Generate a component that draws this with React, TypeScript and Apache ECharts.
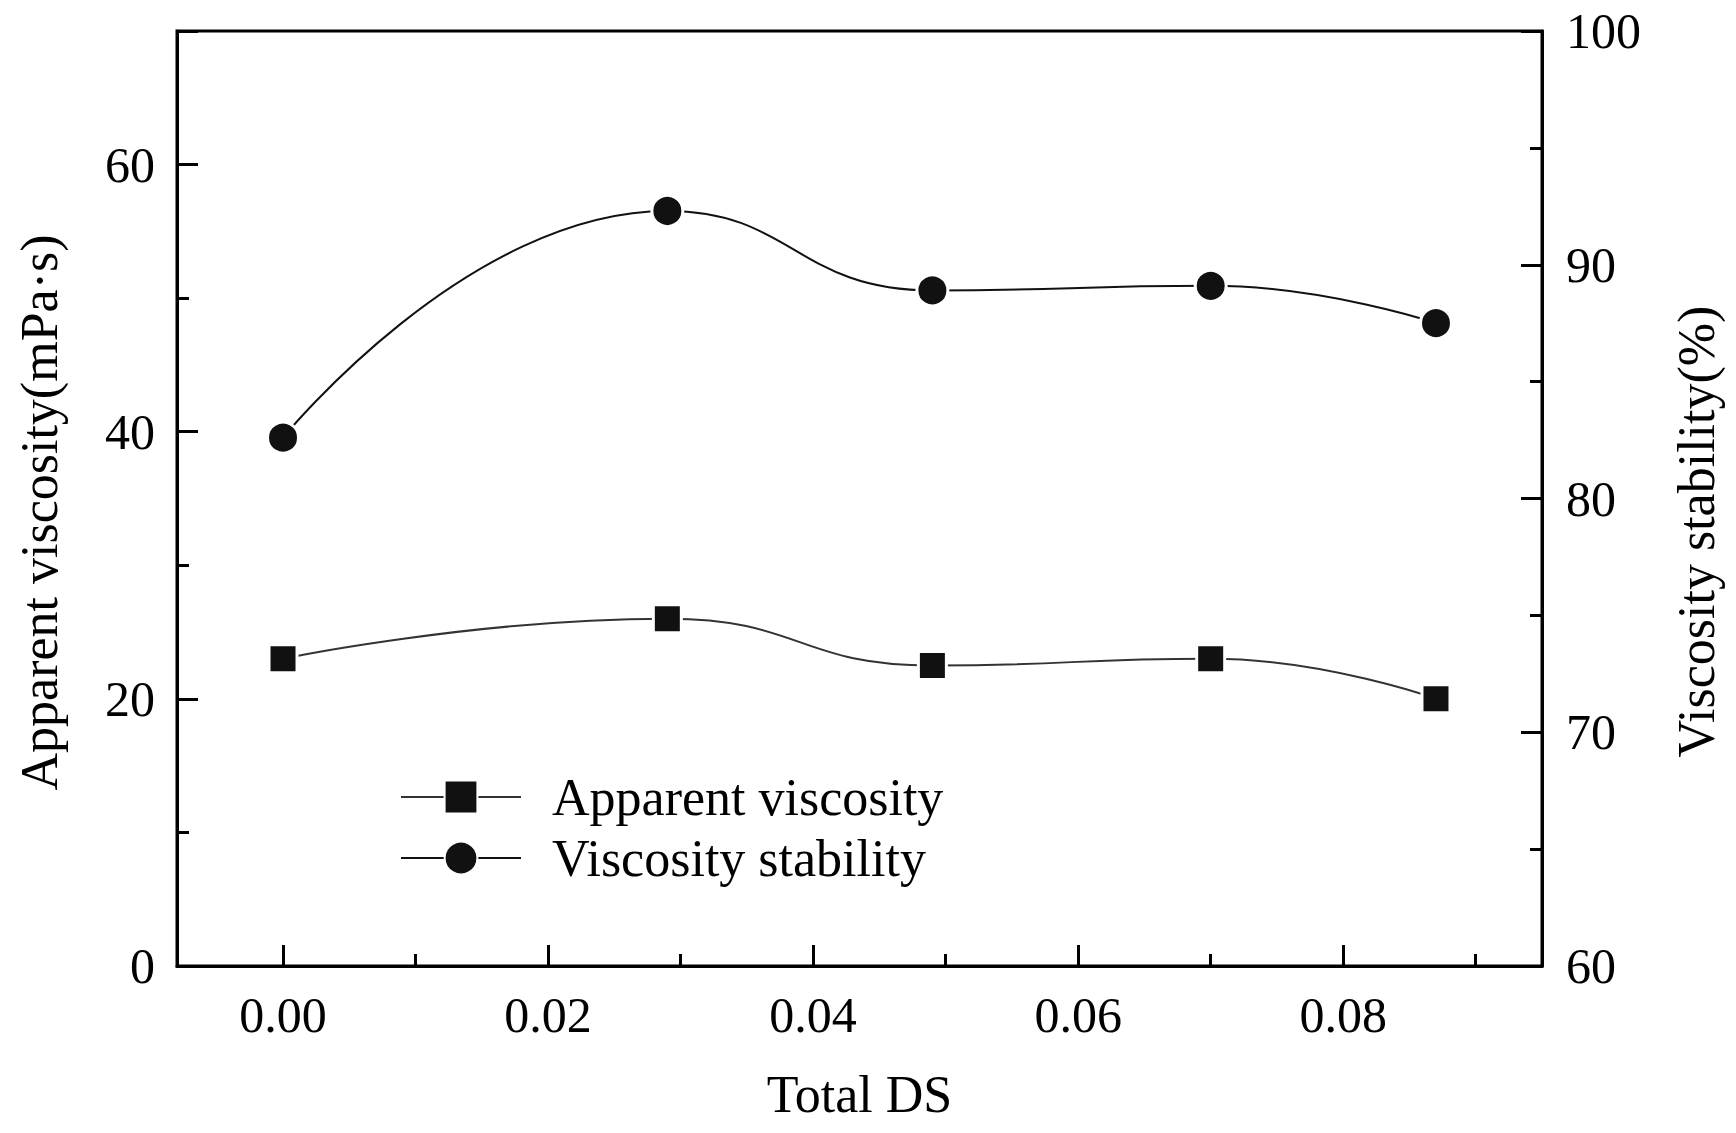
import React, { useEffect, useRef } from "react";
import * as echarts from "echarts";

const totalDS = [0.0, 0.029, 0.049, 0.07, 0.087];
const apparentViscosity = [23.0, 26.0, 22.5, 23.0, 20.0];
const viscosityStability = [82.6, 92.3, 88.9, 89.1, 87.5];
const seriesNames = ["Apparent viscosity", "Viscosity stability"];
const xAxisName = "Total DS";
const leftAxisName = "Apparent viscosity(mPa·s)";
const rightAxisName = "Viscosity stability(%)";

const FONT = "'Liberation Serif', 'Times New Roman', serif";

export default function App() {
  const ref = useRef<HTMLDivElement>(null);

  useEffect(() => {
    if (!ref.current) return;
    const chart = echarts.init(ref.current, null, { renderer: "svg" });
    const axisText = { fontFamily: FONT, fontSize: 50, color: "#000" };
    const nameText = { fontFamily: FONT, fontSize: 52, color: "#000" };
    const axisLine = { show: true, onZero: false, lineStyle: { color: "#000", width: 3 } };
    const axisTick = { show: true, inside: true, length: 21, lineStyle: { color: "#000", width: 3 } };
    const minorTick = { show: true, splitNumber: 2, length: 12, lineStyle: { color: "#000", width: 3 } };

    chart.setOption({
      animation: false,
      backgroundColor: "#fff",
      grid: {
        left: 177,
        right: 194,
        top: 31,
        bottom: 167,
        show: true,
        borderColor: "#000",
        borderWidth: 3,
        backgroundColor: "transparent",
      },
      legend: {
        orient: "vertical",
        left: 395,
        top: 764,
        itemWidth: 120,
        itemHeight: 41,
        itemGap: 5,
        selectedMode: false,
        textStyle: { ...nameText, lineHeight: 56, padding: [0, 0, 0, 26] },
        data: seriesNames,
      },
      xAxis: {
        type: "value",
        min: -0.008,
        max: 0.095,
        splitNumber: 5,
        name: xAxisName,
        nameLocation: "middle",
        nameGap: 102,
        nameTextStyle: nameText,
        axisLine,
        axisTick,
        minorTick,
        splitLine: { show: false },
        axisLabel: {
          ...axisText,
          margin: 24,
          showMinLabel: false,
          showMaxLabel: false,
          formatter: (v: number) => v.toFixed(2),
        },
      },
      yAxis: [
        {
          type: "value",
          position: "left",
          min: 0,
          max: 70,
          interval: 20,
          name: leftAxisName,
          nameLocation: "middle",
          nameRotate: 90,
          nameGap: 112,
          nameTextStyle: { ...nameText, padding: [0, 28, 0, 0] },
          axisLine,
          axisTick,
          minorTick,
          splitLine: { show: false },
          axisLabel: { ...axisText, margin: 22, showMaxLabel: false },
        },
        {
          type: "value",
          position: "right",
          min: 60,
          max: 100,
          interval: 10,
          name: rightAxisName,
          nameLocation: "middle",
          nameRotate: 90,
          nameGap: 128,
          nameTextStyle: { ...nameText, padding: [0, 66, 0, 0] },
          axisLine,
          axisTick,
          minorTick,
          splitLine: { show: false },
          axisLabel: { ...axisText, margin: 24 },
        },
      ],
      series: [
        {
          name: seriesNames[0],
          type: "line",
          yAxisIndex: 0,
          smooth: 0.5,
          symbol: "rect",
          symbolSize: 28,
          lineStyle: { color: "#333", width: 2 },
          itemStyle: { color: "#111", borderColor: "#fff", borderWidth: 3 },
          data: totalDS.map((x, i) => [x, apparentViscosity[i]]),
          z: 3,
        },
        {
          name: seriesNames[1],
          type: "line",
          yAxisIndex: 1,
          smooth: 0.5,
          symbol: "circle",
          symbolSize: 31,
          lineStyle: { color: "#111", width: 2 },
          itemStyle: { color: "#111", borderColor: "#fff", borderWidth: 3 },
          data: totalDS.map((x, i) => [x, viscosityStability[i]]),
          z: 3,
        },
      ],
    });
    return () => chart.dispose();
  }, []);

  return (
    <div
      ref={ref}
      style={{ position: "fixed", left: 0, top: 0, width: 1736, height: 1133, background: "#fff" }}
    />
  );
}
